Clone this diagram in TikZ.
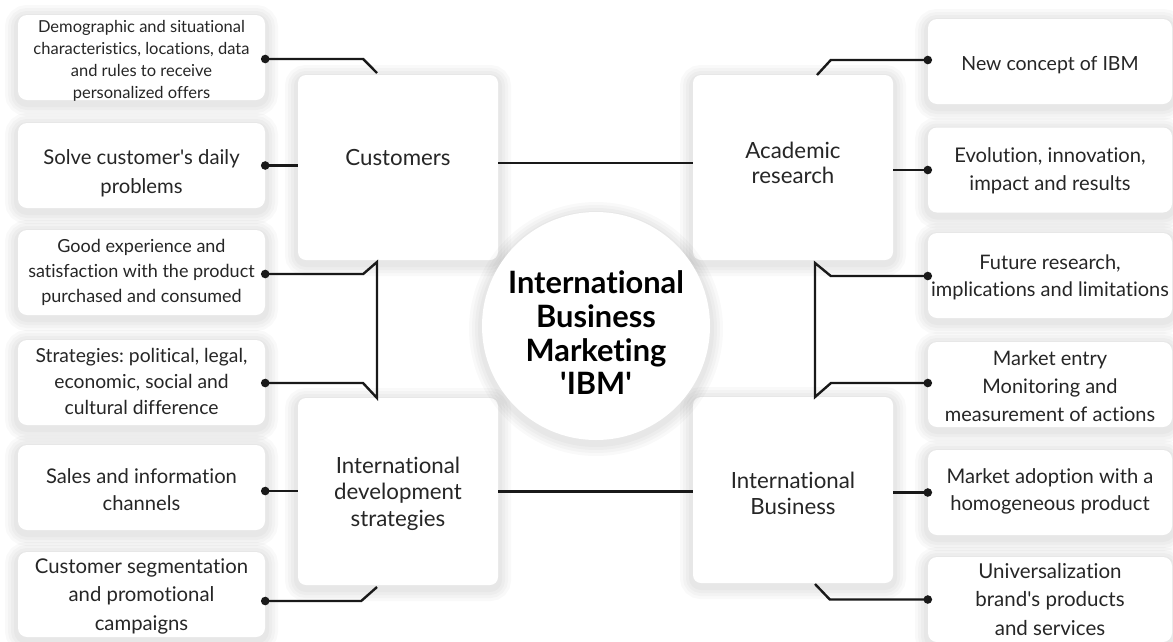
\documentclass[tikz,border=0pt]{standalone}
\usepackage{fontspec}
\setmainfont{Lato}[Ligatures={TeX,NoCommon}]
\definecolor{txt}{HTML}{262626}
\newcommand\mytxt[2]{\raisebox{#1}[0pt][0pt]{\begin{tabular}[t]{@{}c@{}}#2\end{tabular}}}
\begin{document}
\frenchspacing
\begin{tikzpicture}[x=1pt,y=-1pt,
  shl/.style={preaction={draw=black,draw opacity=0.022,line width=#1,transform canvas={yshift=-3pt}}},
  sh/.style={shl=26pt,shl=20pt,shl=14pt,shl=8pt},
  small/.style={fill=white,rounded corners=9pt,minimum width=247pt,minimum height=85pt,inner sep=0pt,
    text=txt,sh},
  rsmall/.style={small,minimum width=244pt},
  big/.style={fill=white,rounded corners=8pt,minimum width=200pt,minimum height=185pt,inner sep=0pt,
    text=txt,sh,font=\fontsize{22.3}{25.5}\selectfont},
  conn/.style={line width=2.4pt,black!90,line join=miter},
  dotc/.style={fill=black!90}
]
\path[fill=white,use as bounding box] (0,0) rectangle (1173,641);

% big boxes
\node[big] (C) at (398,167.5) {\mytxt{2.5pt}{Customers}};
\node[big] (A) at (793,167.5) {\mytxt{9.5pt}{Academic\\research}};
\node[big,minimum height=187pt,font=\fontsize{22.3}{26.5}\selectfont] (S) at (398,491.5) {\mytxt{18.5pt}{International\\development\\strategies}};
\node[big,minimum height=186pt,font=\fontsize{22.3}{26}\selectfont] (B) at (793,490) {\mytxt{1.5pt}{International\\Business}};

% left boxes
\node[small,font=\fontsize{16.5}{22}\selectfont] (L1) at (141.5,57.5) {\mytxt{25pt}{Demographic and situational\\characteristics, locations, data\\and rules to receive\\personalized offers}};
\node[small,font=\fontsize{20.3}{29}\selectfont] (L2) at (141.5,165.5) {\mytxt{1.5pt}{Solve customer\textquotesingle s daily\\problems}};
\node[small,font=\fontsize{18}{25}\selectfont] (L3) at (141.5,272.5) {\mytxt{20.5pt}{Good experience and\\satisfaction with the product\\purchased and consumed}};
\node[small,font=\fontsize{19.3}{26}\selectfont] (L4) at (141.5,382.5) {\mytxt{20.5pt}{Strategies: political, legal,\\economic, social and\\cultural difference}};
\node[small,font=\fontsize{20.2}{27.5}\selectfont] (L5) at (141.5,487.5) {\mytxt{4.5pt}{Sales and information\\channels}};
\node[small,font=\fontsize{20.3}{28.5}\selectfont] (L6) at (141.5,594.5) {\mytxt{21.5pt}{Customer segmentation\\and promotional\\campaigns}};

% right boxes
\node[rsmall,font=\fontsize{19.5}{28}\selectfont] (R1) at (1050,61.5) {\mytxt{-8.5pt}{New concept of IBM}};
\node[rsmall,font=\fontsize{20.2}{28}\selectfont] (R2) at (1050,170) {\mytxt{8pt}{Evolution, innovation,\\impact and results}};
\node[rsmall,font=\fontsize{20}{27}\selectfont] (R3) at (1050,275.5) {\mytxt{6.5pt}{Future research,\\implications and limitations}};
\node[rsmall,font=\fontsize{20}{28}\selectfont] (R4) at (1050,384.5) {\mytxt{19.5pt}{Market entry\\Monitoring and\\measurement of actions}};
\node[rsmall,font=\fontsize{20.2}{27.5}\selectfont] (R5) at (1050,492.5) {\mytxt{9.5pt}{Market adoption with a\\homogeneous product}};
\node[rsmall,font=\fontsize{20.5}{28.5}\selectfont] (R6) at (1050,599.5) {\mytxt{21.5pt}{Universalization\\brand\textquotesingle s products\\and services}};

% centre
\node[circle,fill=white,minimum size=228pt,inner sep=0pt,sh,text=black,
  font=\bfseries\fontsize{30.8}{33.8}\selectfont] (M) at (596,326)
  {\mytxt{32.5pt}{International\\Business\\Marketing\\\textquotesingle IBM\textquotesingle}};

% free ends of connectors
\coordinate (k1) at (377,73);
\coordinate (k6) at (377,587);
\coordinate (r1) at (817,75);
\coordinate (r6) at (815,584);

% horizontal links
\draw[conn] ([yshift=4.5pt]C.east) -- ([yshift=4.5pt]A.west);
\draw[conn] (S.east) -- (S.east -| B.west);

% left connectors
\draw[conn] ([yshift=-1.5pt]L1.east) -- ++(98,0) -- (k1);
\draw[conn] (L2.east) -- (L2.east -| C.west);
\draw[conn] ([yshift=-1.5pt]L3.east) -- ++(98,0) -- (377,262) -- (377,398) -- (363,383) -- ([yshift=-0.5pt]L4.east);
\draw[conn] ([yshift=-3.5pt]L5.east) -- ([yshift=-3.5pt]L5.east -| S.west);
\draw[conn] ([yshift=-6.5pt]L6.east) -- ++(96,0) -- (k6);

% right connectors
\draw[conn] ([yshift=1.5pt]R1.west) -- ++(-97,0) -- (r1);
\draw[conn] (R2.west) -- (R2.west -| A.east);
\draw[conn] ([yshift=-0.5pt]R3.west) -- ++(-97,0) -- (815,263) -- (815,397) -- (831,383) -- ([yshift=1.5pt]R4.west);
\draw[conn] (R5.west) -- (R5.west -| B.east);
\draw[conn] (R6.west) -- ++(-98,0) -- (r6);

% dots
\fill[dotc] ([yshift=-1.5pt]L1.east) circle (4.3pt);
\fill[dotc] (L2.east) circle (4.3pt);
\fill[dotc] ([yshift=-1.5pt]L3.east) circle (4.3pt);
\fill[dotc] ([yshift=-0.5pt]L4.east) circle (4.3pt);
\fill[dotc] ([yshift=-3.5pt]L5.east) circle (4.3pt);
\fill[dotc] ([yshift=-6.5pt]L6.east) circle (4.3pt);
\fill[dotc] ([yshift=1.5pt]R1.west) circle (4.3pt);
\fill[dotc] (R2.west) circle (4.3pt);
\fill[dotc] ([yshift=-0.5pt]R3.west) circle (4.3pt);
\fill[dotc] ([yshift=1.5pt]R4.west) circle (4.3pt);
\fill[dotc] (R5.west) circle (4.3pt);
\fill[dotc] (R6.west) circle (4.3pt);
\end{tikzpicture}
\end{document}
